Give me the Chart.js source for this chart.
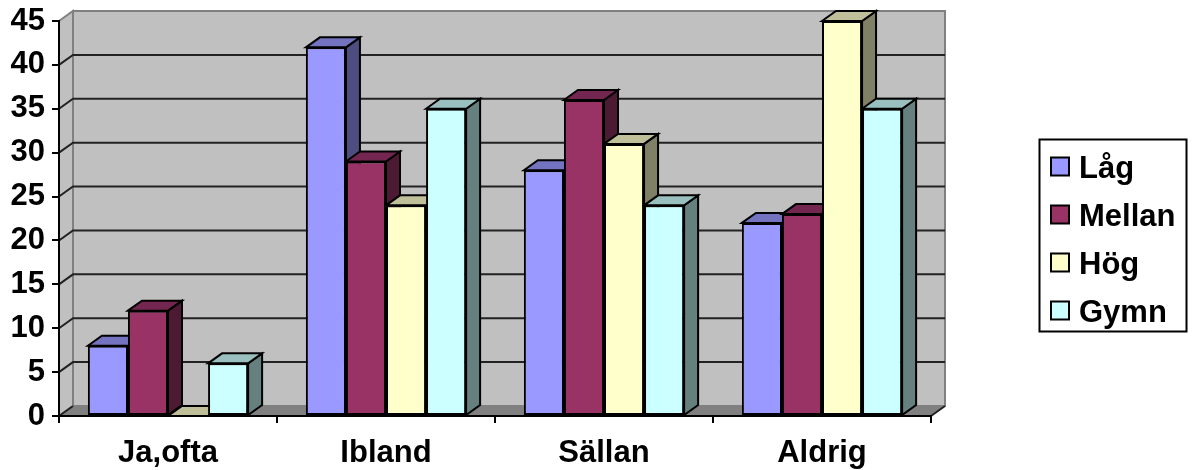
<!DOCTYPE html>
<html>
<head>
<meta charset="utf-8">
<title>Chart</title>
<script src="https://cdn.jsdelivr.net/npm/chart.js@4"></script>
<style>
  html, body { margin: 0; padding: 0; background: #fff; }
  canvas { display: block; }
</style>
</head>
<body>
<canvas id="chart" width="1193" height="470"></canvas>
<script>
const categories = ['Ja,ofta', 'Ibland', 'Sällan', 'Aldrig'];
const seriesNames = ['Låg', 'Mellan', 'Hög', 'Gymn'];
const lag = [8, 42, 28, 22];
const mellan = [12, 29, 36, 23];
const hog = [0, 24, 31, 45];
const gymn = [6, 35, 24, 35];
const yMax = 45;
const yStep = 5;

const frontColors = ['#9999FF', '#993366', '#FFFFCC', '#CCFFFF'];
const topColors = ['#7373BF', '#732650', '#BFBF99', '#99BFBF'];
const sideColors = ['#4D4D80', '#4D1A33', '#808066', '#668080'];

const FAMILY = '"Liberation Sans", Arial, sans-serif';
const FONT = 'bold 31px ' + FAMILY;
const depthX = 14;   // how far the back wall sits from the front axis
const depthY = 10;

function poly(ctx, pts, fill, stroke, width) {
  ctx.beginPath();
  pts.forEach((p, i) => i ? ctx.lineTo(p[0], p[1]) : ctx.moveTo(p[0], p[1]));
  ctx.closePath();
  if (fill) { ctx.fillStyle = fill; ctx.fill(); }
  if (stroke) { ctx.strokeStyle = stroke; ctx.lineWidth = width; ctx.stroke(); }
}

// back wall, side wall, floor and the grid lines that run across them
const wallsPlugin = {
  id: 'walls',
  beforeDraw(chart) {
    const { ctx, chartArea: a, scales: { y } } = chart;
    ctx.save();
    poly(ctx, [[a.left + depthX, a.top - depthY], [a.right + depthX, a.top - depthY],
      [a.right + depthX, a.bottom - depthY], [a.left + depthX, a.bottom - depthY]], '#C0C0C0', '#808080', 2);
    poly(ctx, [[a.left, a.top], [a.left + depthX, a.top - depthY],
      [a.left + depthX, a.bottom - depthY], [a.left, a.bottom]], '#C0C0C0', '#808080', 2);
    poly(ctx, [[a.left, a.bottom], [a.left + depthX, a.bottom - depthY],
      [a.right + depthX, a.bottom - depthY], [a.right, a.bottom]], '#808080');

    ctx.strokeStyle = '#222';
    ctx.lineWidth = 2;
    y.ticks.forEach(t => {
      const py = y.getPixelForValue(t.value);
      if (t.value === yMax) return;
      ctx.beginPath();
      ctx.moveTo(a.left, py);
      ctx.lineTo(a.left + depthX, py - depthY);
      if (t.value > 0) ctx.lineTo(a.right + depthX, py - depthY);
      ctx.stroke();
    });
    // front right corner of the floor
    ctx.beginPath();
    ctx.moveTo(a.right, a.bottom);
    ctx.lineTo(a.right + depthX, a.bottom - depthY);
    ctx.stroke();
    ctx.restore();
  }
};

// side and top faces of each bar, left to right so nearer ones overlap
const facesPlugin = {
  id: 'faces',
  beforeDatasetsDraw(chart) {
    const { ctx } = chart;
    ctx.save();
    categories.forEach((c, i) => {
      seriesNames.forEach((s, d) => {
        const bar = chart.getDatasetMeta(d).data[i];
        const half = bar.width / 2;
        const l = bar.x - half, r = bar.x + half, t = bar.y, b = bar.base;
        poly(ctx, [[r, t], [r + depthX, t - depthY], [r + depthX, b - depthY], [r, b]], sideColors[d], '#000', 2);
        poly(ctx, [[l, t], [l + depthX, t - depthY], [r + depthX, t - depthY], [r, t]], topColors[d], '#000', 2);
      });
    });
    ctx.restore();
  }
};

// framed legend out at the right, away from the plot
const legendPlugin = {
  id: 'boxLegend',
  afterDraw(chart) {
    const { ctx } = chart;
    ctx.save();
    ctx.strokeStyle = '#000';
    ctx.lineWidth = 2;
    ctx.strokeRect(1039.5, 139.5, 147, 192);
    ctx.font = FONT;
    ctx.textBaseline = 'alphabetic';
    chart.data.datasets.forEach((ds, i) => {
      const cy = 166.5 + i * 48;
      ctx.fillStyle = ds.backgroundColor;
      ctx.fillRect(1051, cy - 9, 18, 18);
      ctx.lineWidth = 2;
      ctx.strokeRect(1051, cy - 9, 18, 18);
      ctx.fillStyle = '#000';
      ctx.fillText(ds.label, 1079, cy + 11);
    });
    ctx.restore();
  }
};

const seriesValues = [lag, mellan, hog, gymn];

new Chart(document.getElementById('chart'), {
  type: 'bar',
  data: {
    labels: categories,
    datasets: seriesNames.map((name, i) => ({
      label: name,
      data: seriesValues[i],
      backgroundColor: frontColors[i],
      borderColor: '#000',
      borderWidth: 2,
      borderSkipped: false,
      categoryPercentage: 0.735,
      barPercentage: 1
    }))
  },
  options: {
    responsive: false,
    animation: false,
    layout: { padding: { top: 21, right: 262, bottom: 0, left: 0 } },
    plugins: { legend: { display: false }, tooltip: { enabled: false } },
    scales: {
      x: {
        afterFit: s => { s.height = 54; s.paddingLeft = 0; s.paddingRight = 0; },
        border: { color: '#000', width: 2 },
        grid: { offset: true, drawOnChartArea: false, color: '#000', lineWidth: 2, tickLength: 7 },
        ticks: { color: '#000', padding: 12, maxRotation: 0, font: { family: FAMILY, size: 31, weight: 'bold' } }
      },
      y: {
        min: 0,
        max: yMax,
        afterFit: s => { s.width = 59; s.paddingTop = 0; s.paddingBottom = 0; },
        border: { color: '#000', width: 2 },
        grid: { drawOnChartArea: false, color: '#000', lineWidth: 2, tickLength: 7 },
        ticks: { stepSize: yStep, color: '#000', padding: 7, font: { family: FAMILY, size: 31, weight: 'bold' } }
      }
    }
  },
  plugins: [wallsPlugin, facesPlugin, legendPlugin]
});
</script>
</body>
</html>
